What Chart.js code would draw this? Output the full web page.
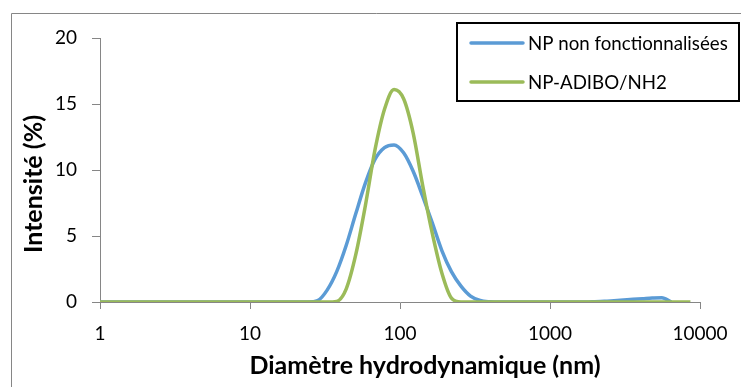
<!DOCTYPE html>
<html>
<head>
<meta charset="utf-8">
<script src="https://cdn.jsdelivr.net/npm/chart.js@4.4.1/dist/chart.umd.min.js"></script>
<style>
  html, body { margin: 0; padding: 0; background: #fff; }
  #wrap { width: 741px; height: 387px; position: relative; }
</style>
</head>
<body>
<div id="wrap"><canvas id="dls" width="741" height="387"></canvas></div>
<script>
// diametres des classes (nm)
const diametres = [0.4, 0.4632, 0.5365, 0.6213, 0.7195, 0.8332, 0.9649, 1.117, 1.294, 1.499,
  1.736, 2.01, 2.328, 2.696, 3.122, 3.615, 4.187, 4.849, 5.615, 6.503,
  7.531, 8.721, 10.1, 11.7, 13.54, 15.69, 18.17, 21.04, 24.36, 28.21,
  32.67, 37.84, 43.82, 50.75, 58.77, 68.06, 78.82, 91.28, 105.7, 122.4,
  141.8, 164.2, 190.1, 220.2, 255, 295.3, 342, 396.1, 458.7, 531.2,
  615.1, 712.4, 825, 955.4, 1106, 1281, 1484, 1718, 1990, 2305,
  2669, 3091, 3580, 4145, 4801, 5560, 6439, 7456, 8635, 10000];

// intensite (%) - NP non fonctionnalisees (jusqu'a 6439 nm)
const npNonFonct = [0, 0, 0, 0, 0, 0, 0, 0, 0, 0,
  0, 0, 0, 0, 0, 0, 0, 0, 0, 0,
  0, 0, 0, 0, 0, 0, 0, 0, 0, 0.1,
  0.9, 2.3, 4.3, 6.7, 9.0, 10.8, 11.7, 11.9, 11.3, 9.9,
  8.0, 6.0, 3.9, 2.3, 1.2, 0.45, 0.12, 0.02, 0, 0,
  0, 0, 0, 0, 0, 0, 0, 0, 0.02, 0.05,
  0.1, 0.15, 0.2, 0.25, 0.3, 0.33, 0];

// intensite (%) - NP-ADIBO/NH2 (jusqu'a 8635 nm)
const npAdibo = [0, 0, 0, 0, 0, 0, 0, 0, 0, 0,
  0, 0, 0, 0, 0, 0, 0, 0, 0, 0,
  0, 0, 0, 0, 0, 0, 0, 0, 0, 0,
  0, 0.05, 1.0, 3.6, 7.3, 11.5, 14.6, 16.1, 15.4, 12.8,
  8.8, 5.2, 2.2, 0.3, 0, 0, 0, 0, 0, 0,
  0, 0, 0, 0, 0, 0, 0, 0, 0, 0,
  0, 0, 0, 0, 0, 0, 0, 0, 0];

const seriesNames = ["NP non fonctionnalisées", "NP-ADIBO/NH2"];
const xTicks = [1, 10, 100, 1000, 10000];
const yTicks = [0, 5, 10, 15, 20];
const xTitle = "Diamètre hydrodynamique (nm)";
const yTitle = "Intensité (%)";

const FONT = "Lato";
const gris = "#868686";

function points(vals) {
  return vals.map((v, i) => ({ x: diametres[i], y: v }));
}

// cadre, titres d'axes et legende encadree (comme Excel)
const decor = {
  id: "decor",
  beforeDraw(chart) {
    const ctx = chart.ctx;
    ctx.save();
    ctx.strokeStyle = gris;
    ctx.lineWidth = 1;
    ctx.beginPath();
    ctx.moveTo(11.5, 387);
    ctx.lineTo(11.5, 13.5);
    ctx.lineTo(741, 13.5);
    ctx.stroke();
    ctx.restore();
  },
  afterDraw(chart) {
    const ctx = chart.ctx;
    ctx.save();
    ctx.fillStyle = "#000";
    ctx.textAlign = "center";
    ctx.textBaseline = "middle";
    ctx.font = "bold 25px " + FONT;
    ctx.fillText(xTitle, 425, 366);
    ctx.translate(34, 184);
    ctx.rotate(-Math.PI / 2);
    ctx.fillText(yTitle, 0, 0);
    ctx.restore();

    // legende
    ctx.save();
    ctx.strokeStyle = "#000";
    ctx.lineWidth = 2;
    ctx.strokeRect(457, 23, 282, 78);
    ctx.font = "18.7px " + FONT;
    ctx.textBaseline = "middle";
    ctx.textAlign = "left";
    const rows = [43, 82];
    chart.data.datasets.forEach((ds, i) => {
      ctx.strokeStyle = ds.borderColor;
      ctx.lineWidth = 3.5;
      ctx.lineCap = "round";
      ctx.beginPath();
      ctx.moveTo(471, rows[i]);
      ctx.lineTo(523, rows[i]);
      ctx.stroke();
      ctx.fillStyle = "#000";
      ctx.fillText(ds.label, 528, rows[i] + 1);
    });
    ctx.restore();
  }
};

new Chart(document.getElementById("dls"), {
  type: "line",
  data: {
    datasets: [
      {
        label: seriesNames[0],
        data: points(npNonFonct),
        borderColor: "#5B9BD5",
        borderWidth: 3.5,
        pointRadius: 0,
        tension: 0.4,
        cubicInterpolationMode: "monotone",
        order: 2,
      },
      {
        label: seriesNames[1],
        data: points(npAdibo),
        borderColor: "#9BBB59",
        borderWidth: 3.5,
        pointRadius: 0,
        tension: 0.4,
        cubicInterpolationMode: "monotone",
        order: 1,
      },
    ],
  },
  plugins: [decor],
  options: {
    responsive: false,
    animation: false,
    devicePixelRatio: 1,
    layout: { padding: { left: 0, top: 38, right: 41, bottom: 0 } },
    plugins: {
      legend: { display: false },
      tooltip: { enabled: false },
    },
    scales: {
      x: {
        type: "logarithmic",
        min: 1,
        max: 10000,
        afterBuildTicks: (scale) => {
          scale.ticks = xTicks.map((v) => ({ value: v }));
        },
        afterFit: (scale) => { scale.height = 85; },
        grid: { drawOnChartArea: false, color: gris, tickLength: 7 },
        border: { color: gris },
        ticks: {
          color: "#000",
          font: { family: FONT, size: 19 },
          padding: 13,
          maxRotation: 0,
          autoSkip: false,
          callback: (v) => String(v),
        },
      },
      y: {
        min: 0,
        max: 20,
        afterBuildTicks: (scale) => {
          scale.ticks = yTicks.map((v) => ({ value: v }));
        },
        afterFit: (scale) => { scale.width = 100; },
        grid: { drawOnChartArea: false, color: gris, tickLength: 8 },
        border: { color: gris },
        ticks: {
          color: "#000",
          font: { family: FONT, size: 19 },
          padding: 15,
          autoSkip: false,
        },
      },
    },
  },
});
</script>
</body>
</html>
